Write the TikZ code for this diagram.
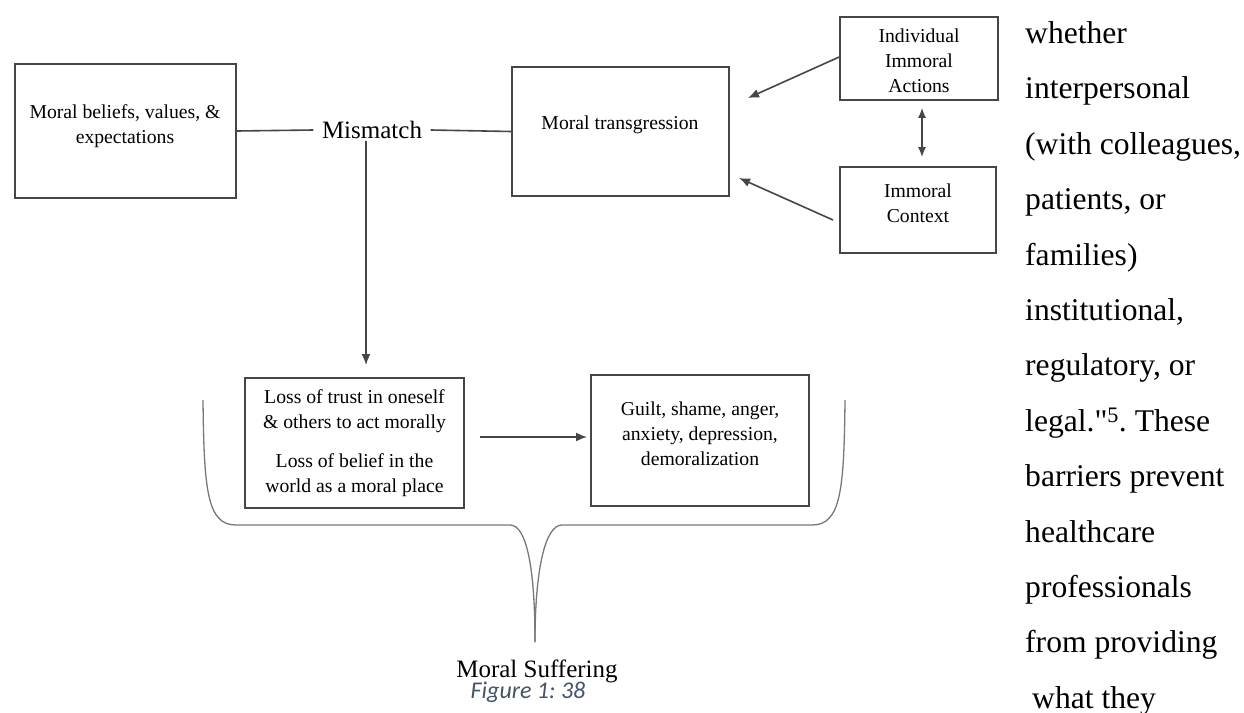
\documentclass[tikz,border=0pt]{standalone}
\usepackage{fontspec}
\setmainfont{Liberation Serif}
\newfontfamily\colfont[Ligatures=TeXOff]{Liberation Serif}
\newfontfamily\capfont{Carlito}
\usetikzlibrary{arrows.meta}
\definecolor{edge}{RGB}{70,70,70}
\definecolor{bracegray}{RGB}{120,120,120}
\definecolor{capblue}{RGB}{68,84,106}
\frenchspacing
\begin{document}
\begin{tikzpicture}[x=1pt,y=-1pt,
  frame/.style={draw=edge,line width=1.7pt,inner sep=0pt},
  boxtext/.style={align=center,inner sep=0pt,font=\fontsize{19.7}{25}\selectfont},
  bigtext/.style={font=\fontsize{25}{30}\selectfont},
  link/.style={draw=edge,line width=1.6pt},
  arr/.style={link,-{Latex[length=11pt,width=9pt]}},
  dbl/.style={link,{Latex[length=10pt,width=8pt]}-{Latex[length=10pt,width=8pt]}},
  brace/.style={draw=bracegray,line width=1.3pt},
  coltext/.style={anchor=base west,inner sep=0pt,font=\colfont\fontsize{31.6}{38}\selectfont}]
\useasboundingbox (0,0) rectangle (1244,712);
\fill[white] (0,0) rectangle (1244,712);

% boxes
\node[frame,minimum width=221,minimum height=134] (beliefs) at (125.5,131) {};
\node[frame,minimum width=217,minimum height=129] (trans) at (620.5,131.5) {};
\node[frame,minimum width=158,minimum height=83] (ind) at (919,58.5) {};
\node[frame,minimum width=156,minimum height=86] (ctx) at (918,210) {};
\node[frame,minimum width=219,minimum height=130] (loss) at (354.5,443) {};
\node[frame,minimum width=218,minimum height=131] (emo) at (700,440.5) {};

% box texts
\node[boxtext] (beliefsT) at (125,126) {Moral beliefs, values, \&\\expectations};
\node[boxtext] (transT) at (620,125) {Moral transgression};
\node[boxtext] (indT) at (919,61) {Individual\\Immoral\\Actions};
\node[boxtext] (ctxT) at (918,203) {Immoral\\Context};
\node[boxtext] (lossT) at (354.5,443) {Loss of trust in oneself\\\& others to act morally\\[14pt]Loss of belief in the\\world as a moral place};
\node[boxtext] (emoT) at (700,434) {Guilt, shame, anger,\\anxiety, depression,\\demoralization};

% mismatch label and its links
\node[bigtext,inner xsep=8.5pt,inner ysep=2pt] (mis) at (372,130) {Mismatch};
\draw[link] (beliefs.east) -- (mis.west);
\draw[link] (mis.east) -- (trans.west);
\coordinate (dropEnd) at (366,365);
\draw[arr] (mis.south -| dropEnd) -- (dropEnd);

% influences on the transgression
\coordinate (indTip) at (748,98);
\coordinate (ctxStart) at (833,220);
\coordinate (ctxTip) at (739,178);
\draw[arr] ([yshift=1.5pt]ind.west) -- (indTip);
\draw[arr] (ctxStart) -- (ctxTip);
\draw[dbl] ([shift={(3,7)}]ind.south) -- ([shift={(4,-9)}]ctx.north);

% consequence arrow
\coordinate (lossOut) at (480,437);
\coordinate (emoIn) at (587,437);
\draw[arr] (lossOut) -- (emoIn);

% grouping brace
\draw[brace] (203,400) .. controls (204,490) and (207,525) .. (236,525) -- (510,525)
  .. controls (527,525) and (535,570) .. (535,642);
\draw[brace] (845,400) .. controls (844,490) and (841,525) .. (812,525) -- (562,525)
  .. controls (545,525) and (535,570) .. (535,642);
\node[bigtext,inner sep=0pt,anchor=base] (suffer) at (537,677) {Moral Suffering};
\node[inner sep=0pt,anchor=base,text=capblue,font=\capfont\itshape\fontsize{24}{28}\selectfont] (caption) at (528,698) {Figure 1: 38};

% running text column
\foreach \t [count=\i from 0] in {whether,interpersonal,{(with colleagues,},{patients, or},{families)},{institutional,},{regulatory, or},{legal."\textsuperscript{5}. These},{barriers prevent},healthcare,professionals,{from providing},{\hspace*{7pt}what they}}
  \node[coltext] (col\i) at (1025,{43.5+55.4*\i}) {\t};
\end{tikzpicture}
\end{document}
